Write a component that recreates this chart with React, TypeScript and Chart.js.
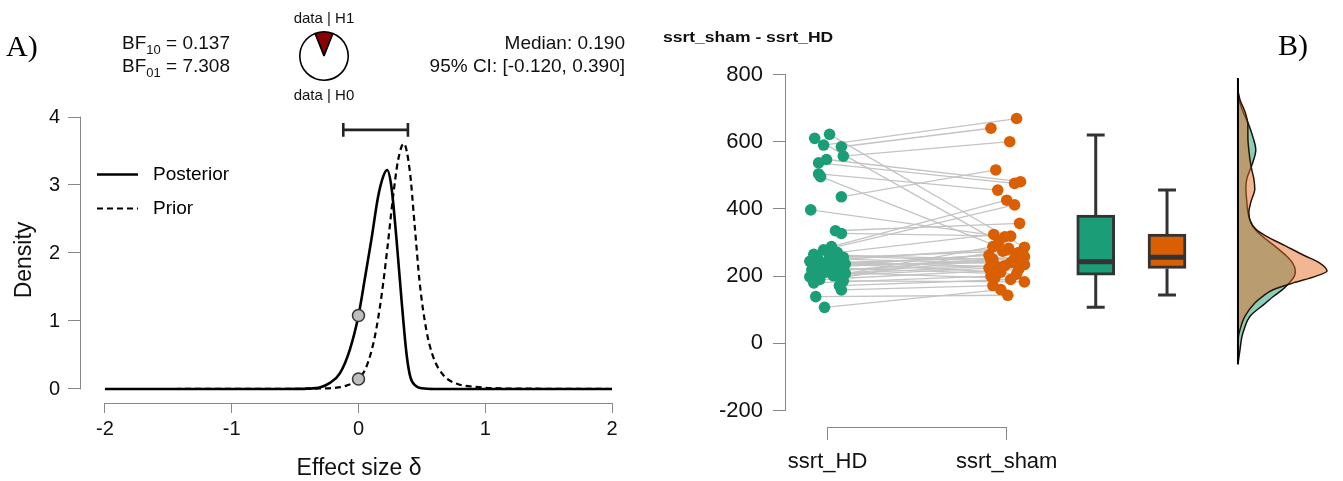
import React, { useEffect, useRef } from 'react';
import { Chart, registerables } from 'chart.js';

Chart.register(...registerables);

const FONT = "'Liberation Sans', Arial, Helvetica, sans-serif";
const SERIF = "'Liberation Serif', 'Times New Roman', serif";

// ---------------- Panel A: Bayesian paired t-test ----------------
const seriesNames = ['Posterior', 'Prior'];
const posteriorX = [-2, -0.6, -0.4, -0.3, -0.226, -0.147, -0.068, 0, 0.05, 0.102, 0.155, 0.194, 0.226, 0.26, 0.3, 0.34, 0.38, 0.41, 0.45, 0.5, 0.6, 2];
const posteriorY = [0, 0, 0.005, 0.025, 0.09, 0.23, 0.58, 1.08, 1.62, 2.2, 2.83, 3.12, 3.22, 2.97, 2.2, 1.3, 0.5, 0.17, 0.05, 0.01, 0, 0];
const priorX = [-2, -0.6, -0.3, -0.2, -0.094, 0, 0.063, 0.129, 0.181, 0.226, 0.273, 0.312, 0.357, 0.404, 0.444, 0.483, 0.535, 0.588, 0.667, 0.772, 0.93, 1.11, 1.4, 2];
const priorY = [0, 0.002, 0.008, 0.015, 0.05, 0.147, 0.33, 0.77, 1.36, 2.04, 2.83, 3.36, 3.61, 3.22, 2.39, 1.56, 0.87, 0.48, 0.21, 0.08, 0.03, 0.01, 0.004, 0];
const ciBounds = [-0.12, 0.39];
const ciHeight = 3.81;
const nullPointX = [0, 0];
const nullPointY = [1.08, 0.147];
const effectTicks = [-2, -1, 0, 1, 2];
const densityTicks = [0, 1, 2, 3, 4];
const bfLines = [
  { name: 'BF', sub: '10', value: '0.137' },
  { name: 'BF', sub: '01', value: '7.308' },
];
const summaryLines = ['Median: 0.190', '95% CI: [-0.120, 0.390]'];
const pieLabels = ['data | H1', 'data | H0'];
const pieValues = [0.12, 0.88];

// ---------------- Panel B: raincloud ----------------
const groups = ['ssrt_HD', 'ssrt_sham'];
const ssrtHD = [622, 610, 590, 585, 557, 547, 537, 504, 496, 436, 397, 335, 327, 288, 278, 270, 265, 260, 256, 252, 248, 244, 241, 239, 236, 233, 230, 227, 223, 219, 216, 212, 208, 204, 201, 198, 195, 190, 186, 180, 172, 159, 139, 107];
const ssrtSham = [286, 302, 669, 640, 600, 481, 476, 456, 266, 516, 317, 357, 319, 426, 412, 324, 250, 243, 274, 237, 283, 228, 256, 212, 262, 240, 270, 247, 206, 231, 258, 195, 253, 234, 288, 224, 278, 220, 183, 200, 190, 172, 143, 160];
const hdJitter = [0.011, -0.072, -0.022, 0.077, 0.088, -0.006, -0.05, -0.05, -0.039, 0.077, -0.094, 0.044, 0.077, 0.022, -0.022, 0.055, -0.077, 0.011, 0.088, -0.055, 0.033, -0.099, 0.066, -0.022, 0.099, -0.077, 0.022, -0.044, 0.088, -0.088, 0.055, -0.011, 0.099, -0.066, 0.033, -0.099, 0.077, -0.044, 0.088, -0.077, 0.066, 0.077, -0.066, -0.017];
const shamJitter = [0.099, -0.044, 0.055, -0.088, 0.017, 0.077, 0.044, -0.05, 0.055, -0.061, -0.011, 0.072, 0.022, 0, 0.044, -0.072, -0.077, 0.033, -0.022, 0.088, 0.011, -0.055, 0.077, -0.033, -0.099, 0.022, 0.066, -0.088, 0.055, -0.011, 0.099, -0.066, 0.044, 0.099, -0.077, -0.099, 0, 0.066, 0.099, -0.088, 0.022, -0.077, 0.006, -0.033];
// [lower whisker, Q1, median, Q3, upper whisker]
const boxHD = [107, 203, 243, 382, 620];
const boxSham = [144, 223, 256, 325, 456];
const densV = [-62, -20, 20, 40, 80, 120, 140, 160, 180, 200, 215, 240, 260, 290, 320, 340, 360, 390, 420, 460, 490, 530, 575, 615, 650, 690, 725, 760, 789];
const densHD = [0, 0.02, 0.04, 0.06, 0.12, 0.28, 0.36, 0.45, 0.52, 0.57, 0.58, 0.55, 0.49, 0.37, 0.24, 0.17, 0.13, 0.1, 0.09, 0.08, 0.09, 0.14, 0.18, 0.15, 0.11, 0.05, 0.01, 0, 0];
const densSham = [0, 0, 0.005, 0.02, 0.07, 0.17, 0.25, 0.36, 0.56, 0.79, 0.9, 0.82, 0.68, 0.48, 0.28, 0.18, 0.13, 0.11, 0.13, 0.17, 0.16, 0.13, 0.11, 0.1, 0.1, 0.07, 0.02, 0, 0];
const ssrtTicks = [-200, 0, 200, 400, 600, 800];
const panelTitle = 'ssrt_sham - ssrt_HD';

const GREEN = '#1B9E77';
const ORANGE = '#D95F02';
const BOX_X = [2.497, 2.895];
const BOX_HALF = 0.106;
const CAP_HALF = 0.05;
const DENS_BASE = 3.291;
const DENS_SCALE = 0.5525;

const rAxesPlugin = {
  id: 'rAxes',
  afterDraw(chart: any, _args: any, opts: any) {
    const { ctx, chartArea, scales } = chart;
    ctx.save();
    ctx.strokeStyle = opts.color || '#888';
    ctx.lineWidth = 1;
    ctx.beginPath();
    if (opts.y) {
      const px = Math.round(chartArea.left) + 0.5;
      ctx.moveTo(px, scales.y.getPixelForValue(opts.y[0]) + 0.5);
      ctx.lineTo(px, scales.y.getPixelForValue(opts.y[1]) - 0.5);
    }
    if (opts.x) {
      const py = Math.round(chartArea.bottom) + 0.5;
      ctx.moveTo(scales.x.getPixelForValue(opts.x[0]) - 0.5, py);
      ctx.lineTo(scales.x.getPixelForValue(opts.x[1]) + 0.5, py);
    }
    ctx.stroke();
    ctx.restore();
  },
};

const lineLegendPlugin = {
  id: 'lineLegend',
  afterDatasetsDraw(chart: any, _args: any, opts: any) {
    const { ctx, chartArea } = chart;
    ctx.save();
    opts.items.forEach((it: any, i: number) => {
      const y = chartArea.top + opts.top + i * opts.gap;
      ctx.beginPath();
      ctx.setLineDash(it.dash);
      ctx.lineWidth = it.width;
      ctx.strokeStyle = '#000';
      ctx.moveTo(chartArea.left + opts.left, y);
      ctx.lineTo(chartArea.left + opts.left + opts.length, y);
      ctx.stroke();
      ctx.setLineDash([]);
      ctx.fillStyle = '#000';
      ctx.font = `19px ${FONT}`;
      ctx.textBaseline = 'middle';
      ctx.textAlign = 'left';
      ctx.fillText(it.label, chartArea.left + opts.textLeft, y);
    });
    ctx.restore();
  },
};

const pts = (xs: number[], ys: number[]) => xs.map((x, i) => ({ x, y: ys[i] }));

export default function App() {
  const leftRef = useRef<HTMLCanvasElement>(null);
  const rightRef = useRef<HTMLCanvasElement>(null);
  const pieRef = useRef<HTMLCanvasElement>(null);

  useEffect(() => {
    Chart.defaults.font.family = FONT;
    Chart.defaults.color = '#111';

    const ciPath = [
      { x: ciBounds[0], y: ciHeight + 0.1 },
      { x: ciBounds[0], y: ciHeight - 0.1 },
      { x: ciBounds[0], y: ciHeight },
      { x: ciBounds[1], y: ciHeight },
      { x: ciBounds[1], y: ciHeight + 0.1 },
      { x: ciBounds[1], y: ciHeight - 0.1 },
    ];

    const left = new Chart(leftRef.current as any, {
      type: 'scatter',
      data: {
        datasets: [
          { type: 'line', label: seriesNames[0], data: pts(posteriorX, posteriorY), borderColor: '#000', borderWidth: 2.6, pointRadius: 0, cubicInterpolationMode: 'monotone', fill: false, order: 3 } as any,
          { type: 'line', label: seriesNames[1], data: pts(priorX, priorY), borderColor: '#000', borderWidth: 2.2, borderDash: [6, 4], pointRadius: 0, cubicInterpolationMode: 'monotone', fill: false, order: 4 } as any,
          { type: 'line', label: '95% CI', data: ciPath, borderColor: '#222', borderWidth: 2.6, pointRadius: 0, tension: 0, borderJoinStyle: 'bevel', fill: false, order: 2 } as any,
          { type: 'scatter', label: 'density at 0', data: pts(nullPointX, nullPointY), pointRadius: 6, backgroundColor: '#BEBEBE', borderColor: '#333', borderWidth: 1.5, order: 1 } as any,
        ],
      },
      options: {
        responsive: false,
        animation: false,
        events: [],
        layout: { padding: { top: 117, right: 48, left: 0, bottom: 0 } },
        scales: {
          x: {
            type: 'linear', min: -2.197, max: 2, offset: false,
            afterBuildTicks: (s: any) => { s.ticks = effectTicks.map((v) => ({ value: v })); },
            afterFit: (s: any) => { s.height = 78; },
            ticks: { callback: (v: any) => String(v), font: { size: 20 }, color: '#111', padding: 4, maxRotation: 0, autoSkip: false },
            grid: { display: true, offset: false, drawOnChartArea: false, drawTicks: true, tickLength: 10, color: '#888' },
            border: { display: false },
          },
          y: {
            type: 'linear', min: -0.206, max: 4,
            afterBuildTicks: (s: any) => { s.ticks = densityTicks.map((v) => ({ value: v })); },
            afterFit: (s: any) => { s.width = 80; },
            ticks: { callback: (v: any) => String(v), font: { size: 20 }, color: '#111', padding: 8, autoSkip: false },
            grid: { display: true, offset: false, drawOnChartArea: false, drawTicks: true, tickLength: 12, color: '#888' },
            border: { display: false },
            title: { display: true, text: 'Density', font: { size: 23 }, color: '#111', padding: { top: 11, bottom: 0 } },
          },
        },
        plugins: {
          legend: { display: false },
          tooltip: { enabled: false },
          rAxes: { x: [effectTicks[0], effectTicks[effectTicks.length - 1]], y: [densityTicks[0], densityTicks[densityTicks.length - 1]], color: '#888' },
          lineLegend: {
            top: 57.5, gap: 34, left: 17, length: 41, textLeft: 73,
            items: [
              { label: seriesNames[0], dash: [], width: 2.6 },
              { label: seriesNames[1], dash: [6, 4], width: 2.2 },
            ],
          },
        } as any,
      },
      plugins: [rAxesPlugin, lineLegendPlugin],
    } as any);

    const datasets: any[] = [];
    ssrtHD.forEach((v, i) => {
      datasets.push({
        type: 'line', label: 'pair', data: [{ x: 1 + hdJitter[i], y: v }, { x: 2 + shamJitter[i], y: ssrtSham[i] }],
        borderColor: '#C4C4C4', borderWidth: 1.3, pointRadius: 0, fill: false, order: 10,
      });
    });
    datasets.push({ type: 'scatter', label: groups[0], data: ssrtHD.map((v, i) => ({ x: 1 + hdJitter[i], y: v })), pointRadius: 5.8, backgroundColor: GREEN, borderWidth: 0, order: 0 });
    datasets.push({ type: 'scatter', label: groups[1], data: ssrtSham.map((v, i) => ({ x: 2 + shamJitter[i], y: v })), pointRadius: 5.8, backgroundColor: ORANGE, borderWidth: 0, order: 0 });

    const boxes = [boxHD, boxSham];
    datasets.push({
      type: 'bar', label: 'IQR', data: boxes.map((b, i) => ({ x: BOX_X[i], y: [b[1], b[3]] })),
      backgroundColor: [GREEN, ORANGE], borderColor: '#333', borderWidth: 3, borderSkipped: false, barThickness: 38, order: 5,
    });
    boxes.forEach((b, i) => {
      const cx = BOX_X[i];
      const common = { type: 'line', borderColor: '#333', pointRadius: 0, fill: false, tension: 0 };
      datasets.push({ ...common, label: 'median', data: [{ x: cx - BOX_HALF + 0.005, y: b[2] }, { x: cx + BOX_HALF - 0.005, y: b[2] }], borderWidth: 5, order: 4 });
      datasets.push({ ...common, label: 'upper whisker', data: [{ x: cx, y: b[3] }, { x: cx, y: b[4] }], borderWidth: 3, order: 6 });
      datasets.push({ ...common, label: 'lower whisker', data: [{ x: cx, y: b[1] }, { x: cx, y: b[0] }], borderWidth: 3, order: 6 });
      datasets.push({ ...common, label: 'upper cap', data: [{ x: cx - CAP_HALF, y: b[4] }, { x: cx + CAP_HALF, y: b[4] }], borderWidth: 3, order: 6 });
      datasets.push({ ...common, label: 'lower cap', data: [{ x: cx - CAP_HALF, y: b[0] }, { x: cx + CAP_HALF, y: b[0] }], borderWidth: 3, order: 6 });
    });

    datasets.push({
      type: 'line', indexAxis: 'y', label: groups[0] + ' density',
      data: densV.map((v, i) => ({ x: DENS_BASE + densHD[i] * DENS_SCALE, y: v })),
      borderColor: '#111', borderWidth: 1.5, backgroundColor: 'rgba(27,158,119,0.5)', fill: { value: DENS_BASE },
      pointRadius: 0, cubicInterpolationMode: 'monotone', order: 8,
    });
    datasets.push({
      type: 'line', indexAxis: 'y', label: groups[1] + ' density',
      data: densV.map((v, i) => ({ x: DENS_BASE + densSham[i] * DENS_SCALE, y: v })),
      borderColor: '#2a1505', borderWidth: 1.5, backgroundColor: 'rgba(230,110,40,0.5)', fill: { value: DENS_BASE },
      pointRadius: 0, cubicInterpolationMode: 'monotone', order: 7,
    });
    datasets.push({
      type: 'line', label: 'density baseline', data: [{ x: DENS_BASE, y: densV[0] }, { x: DENS_BASE, y: densV[densV.length - 1] }],
      borderColor: '#000', borderWidth: 2, pointRadius: 0, fill: false, order: 6,
    });

    const right = new Chart(rightRef.current as any, {
      type: 'scatter',
      data: { datasets },
      options: {
        responsive: false,
        animation: false,
        events: [],
        layout: { padding: { top: 74.5, right: 0, left: 0, bottom: 0 } },
        scales: {
          x: {
            type: 'linear', min: 0.7624, max: 3.845, offset: false,
            afterBuildTicks: (s: any) => { s.ticks = [1, 2].map((v) => ({ value: v })); },
            afterFit: (s: any) => { s.height = 54; },
            ticks: { callback: (v: any) => groups[Math.round(v) - 1], font: { size: 22 }, color: '#111', padding: 9, maxRotation: 0, autoSkip: false },
            grid: { display: true, offset: false, drawOnChartArea: false, drawTicks: true, tickLength: 13, color: '#888' },
            border: { display: false },
          },
          y: {
            type: 'linear', min: -249, max: 800, offset: false,
            afterBuildTicks: (s: any) => { s.ticks = ssrtTicks.map((v) => ({ value: v })); },
            afterFit: (s: any) => { s.width = 125; },
            ticks: { callback: (v: any) => String(v), font: { size: 22 }, color: '#111', padding: 10, autoSkip: false },
            grid: { display: true, offset: false, drawOnChartArea: false, drawTicks: true, tickLength: 12, color: '#888' },
            border: { display: false },
          },
        },
        plugins: {
          legend: { display: false },
          tooltip: { enabled: false },
          rAxes: { x: [1, 2], y: [ssrtTicks[0], ssrtTicks[ssrtTicks.length - 1]], color: '#888' },
        } as any,
      },
      plugins: [rAxesPlugin],
    } as any);

    const pie = new Chart(pieRef.current as any, {
      type: 'pie',
      data: {
        labels: pieLabels,
        datasets: [{ data: pieValues, backgroundColor: ['#8B0000', '#FFFFFF'], borderColor: '#000', borderWidth: 1.6 }],
      },
      options: {
        responsive: false,
        animation: false,
        events: [],
        rotation: -(pieValues[0] * 360) / 2,
        layout: { padding: 2 },
        plugins: { legend: { display: false }, tooltip: { enabled: false } },
      },
    } as any);

    return () => {
      left.destroy();
      right.destroy();
      pie.destroy();
    };
  }, []);

  const base: React.CSSProperties = { position: 'absolute', whiteSpace: 'nowrap', lineHeight: 1, color: '#111', fontFamily: FONT };

  return (
    <div style={{ position: 'absolute', left: 0, top: 0, width: 1343, height: 481, background: '#fff', overflow: 'hidden' }}>
      <canvas ref={leftRef} width={660} height={481} style={{ position: 'absolute', left: 0, top: 0 }} />
      <canvas ref={rightRef} width={683} height={481} style={{ position: 'absolute', left: 660, top: 0 }} />
      <canvas ref={pieRef} width={54} height={54} style={{ position: 'absolute', left: 297, top: 29 }} />

      <div style={{ ...base, left: 6, top: 31, fontSize: 30, fontFamily: SERIF, color: '#000' }}>A)</div>
      <div style={{ ...base, left: 1278, top: 30, fontSize: 30, fontFamily: SERIF, color: '#000' }}>B)</div>

      {bfLines.map((b, i) => (
        <div key={i} style={{ ...base, left: 122, top: 32.5 + i * 23.5, fontSize: 19 }}>
          {b.name}
          <span style={{ fontSize: 13, position: 'relative', top: 5 }}>{b.sub}</span>
          {' = ' + b.value}
        </div>
      ))}
      {summaryLines.map((s, i) => (
        <div key={i} style={{ ...base, left: 0, width: 625, textAlign: 'right', top: 32.5 + i * 23.5, fontSize: 19 }}>{s}</div>
      ))}
      <div style={{ ...base, left: 274, width: 100, textAlign: 'center', top: 10, fontSize: 15 }}>{pieLabels[0]}</div>
      <div style={{ ...base, left: 274, width: 100, textAlign: 'center', top: 86.5, fontSize: 15 }}>{pieLabels[1]}</div>

      <div style={{ ...base, left: 259, width: 200, textAlign: 'center', top: 456, fontSize: 23 }}>Effect size δ</div>

      <div style={{ ...base, left: 663, top: 30, fontSize: 14, fontWeight: 'bold', transform: 'scaleX(1.25)', transformOrigin: 'left center' }}>{panelTitle}</div>
    </div>
  );
}
